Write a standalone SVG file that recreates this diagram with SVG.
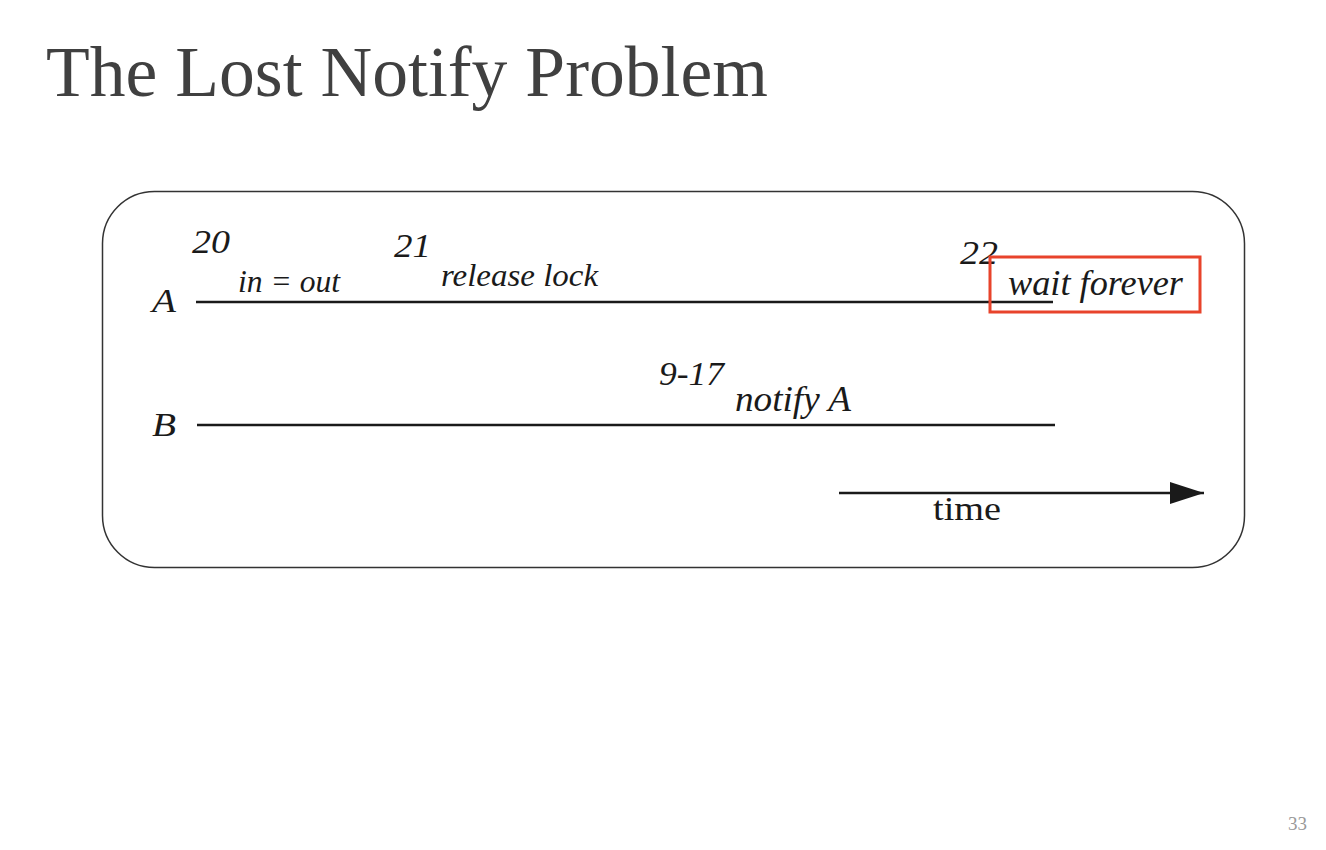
<svg xmlns="http://www.w3.org/2000/svg" width="1326" height="850" viewBox="0 0 1326 850">
<style>
.ln{stroke:#1a1a1a;stroke-width:2.5;fill:none}
</style>
<defs>
<marker id="arr" markerWidth="36" markerHeight="24" refX="34" refY="12" orient="auto" markerUnits="userSpaceOnUse">
<path d="M0,1 L34,12 L0,23 Z" fill="#1a1a1a"/>
</marker>
</defs>
<rect width="1326" height="850" fill="#ffffff"/>
<text x="46" y="96" font-family="Liberation Serif, Times New Roman, serif" font-size="72" fill="#404040" textLength="722" lengthAdjust="spacingAndGlyphs">The Lost Notify Problem</text>
<g id="frame">
<rect x="102.5" y="191.5" width="1142" height="376" rx="52" ry="52" fill="none" stroke="#333" stroke-width="1.5"/>
</g>
<g id="connectors">
<line class="ln" x1="196" y1="302" x2="1053" y2="302"/>
<line class="ln" x1="197" y1="425" x2="1055" y2="425"/>
<line class="ln" x1="839" y1="493" x2="1204" y2="493" marker-end="url(#arr)"/>
</g>
<g font-family="Liberation Serif, Times New Roman, serif" font-style="italic" fill="#1a1a1a">
<g id="threadA">
<text x="152" y="312" font-size="33" textLength="24" lengthAdjust="spacingAndGlyphs">A</text>
<text x="192" y="253" font-size="34" textLength="38" lengthAdjust="spacingAndGlyphs">20</text>
<text x="238" y="292" font-size="32" textLength="102" lengthAdjust="spacingAndGlyphs">in = out</text>
<text x="394" y="257" font-size="34" textLength="37" lengthAdjust="spacingAndGlyphs">21</text>
<text x="441" y="286" font-size="32" textLength="157" lengthAdjust="spacingAndGlyphs">release lock</text>
<text x="960" y="264" font-size="34" textLength="38" lengthAdjust="spacingAndGlyphs">22</text>
</g>
<g id="waitForever">
<rect x="990" y="257" width="210" height="55" fill="none" stroke="#e8432b" stroke-width="3"/>
<text x="1008" y="295" font-size="35" textLength="175" lengthAdjust="spacingAndGlyphs">wait forever</text>
</g>
<g id="threadB">
<text x="152" y="436" font-size="33" textLength="24" lengthAdjust="spacingAndGlyphs">B</text>
<text x="659" y="385" font-size="34" textLength="65" lengthAdjust="spacingAndGlyphs">9-17</text>
<text x="735" y="411" font-size="35" textLength="116" lengthAdjust="spacingAndGlyphs">notify A</text>
</g>
</g>
<g id="timeAxis">
<text x="933" y="520" font-family="Liberation Serif, Times New Roman, serif" font-size="34" fill="#1a1a1a" textLength="68" lengthAdjust="spacingAndGlyphs">time</text>
</g>
<text x="1288" y="830" font-family="Liberation Serif, Times New Roman, serif" font-size="19" fill="#999999">33</text>
</svg>
